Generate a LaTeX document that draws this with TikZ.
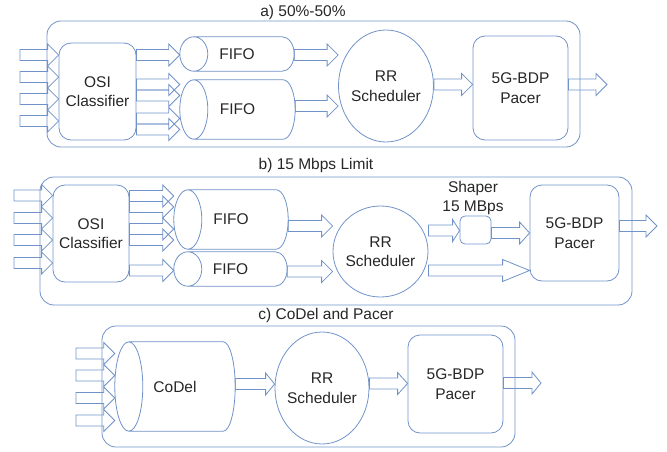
\documentclass[tikz,border=0pt]{standalone}
\usepackage{fontspec}
\setmainfont{Liberation Sans}
\usetikzlibrary{shapes,calc}
\definecolor{traitbleu}{HTML}{7092C8}

\begin{document}
\begin{tikzpicture}[
    x=1pt,y=-1pt,
    every node/.style = {font=\fontsize{15.5}{19.5}\selectfont,text=black!85},
    trait/.style  = {draw=traitbleu,line width=0.8pt},
    cadre/.style  = {trait,rectangle,rounded corners=14pt},
    boite/.style  = {trait,rectangle,rounded corners=12pt,align=center,inner sep=0pt},
    ordo/.style   = {trait,ellipse,align=center,inner xsep=-3pt,inner ysep=0pt},
    file/.style   = {rectangle,inner sep=0pt},
    fl/.style     = {trait,
                     to path={let \p1=(\tikztostart),\p2=(\tikztotarget) in
                       (\x1,\y1+5.5pt) -- (\x2-#1,\y1+5.5pt) -- (\x2-#1,\y1+11pt)
                       -- (\x2,\y1) -- (\x2-#1,\y1-11pt) -- (\x2-#1,\y1-5.5pt)
                       -- (\x1,\y1-5.5pt) -- cycle}},
    fl/.default   = 11pt,
  ]
  \useasboundingbox (0,0) rectangle (667,452);

  % a) 50%-50%
  \node[cadre,minimum width=533pt,minimum height=126pt] (cadreA) at (313.5,84) {};
  \node (titreA) at (303,12) {a) 50\%-50\%};
  \node[boite,minimum width=77pt,minimum height=97pt] (osiA) at (97.5,91.5)
       {OSI\\Classifier};
  \node[file,minimum width=114pt,minimum height=34pt] (fifoA1) at (237,54) {FIFO};
  \node[file,minimum width=115pt,minimum height=59pt] (fifoA2) at (237.5,109.5) {FIFO};
  \node[ordo,minimum width=95pt,minimum height=112pt] (rrA) at (386,86)
       {RR\\Scheduler};
  \node[boite,minimum width=95pt,minimum height=104pt] (pacerA) at (520.5,88)
       {5G-BDP\\Pacer};
  \coordinate (entreeA) at (20,0);
  \coordinate (sortieA) at (607,84.5);

  \foreach \y in {55,77,99,121}
    \draw[fl] (entreeA |- 0,\y) to (osiA.west);
  \draw[fl] (osiA.east |- 0,55) to (fifoA1.west);
  \foreach \y in {84.5,95.5,118.5,129.5}
    \draw[fl] (osiA.east |- 0,\y) to (fifoA2.west);
  \draw[fl] (fifoA1.east |- 0,55) to (rrA.west);
  \draw[fl] (fifoA2.east |- 0,106) to (rrA.west);
  \draw[fl] (rrA.east |- 0,84.5) to (pacerA.west);
  \draw[fl] (pacerA.east |- sortieA) to (sortieA);

  % b) 15 Mbps Limit
  \node[cadre,minimum width=592pt,minimum height=128pt] (cadreB) at (336,241) {};
  \node (titreB) at (316,165) {b) 15 Mbps Limit};
  \node[boite,minimum width=76pt,minimum height=97pt] (osiB) at (91,233.5)
       {OSI\\Classifier};
  \node[file,minimum width=114pt,minimum height=59pt] (fifoB1) at (231,219.5) {FIFO};
  \node[file,minimum width=113pt,minimum height=34pt] (fifoB2) at (230.5,269) {FIFO};
  \node[ordo,minimum width=95pt,minimum height=91pt] (rrB) at (380.5,251.5)
       {RR\\Scheduler};
  \node[boite,rounded corners=5pt,minimum width=31pt,minimum height=28pt] (shaper)
       at (475.5,230) {};
  \node[align=center] (shaperlab) at (473,198) {Shaper\\15 MBps};
  \node[boite,minimum width=89pt,minimum height=96pt] (pacerB) at (574.5,233)
       {5G-BDP\\Pacer};
  \coordinate (entreeB) at (14,0);
  \coordinate (sortieB) at (657,226);

  \foreach \y in {195.5,218,240,263}
    \draw[fl] (entreeB |- 0,\y) to (osiB.west);
  \foreach \y in {196,207,229,240}
    \draw[fl] (osiB.east |- 0,\y) to (fifoB1.west);
  \draw[fl] (osiB.east |- 0,270.5) to (fifoB2.west);
  \draw[fl] (fifoB1.east |- 0,226) to (rrB.west);
  \draw[fl] (fifoB2.east |- 0,271.5) to (rrB.west);
  \draw[fl=7pt] (rrB.east |- 0,230.5) to (shaper.west);
  \draw[fl=10pt] (shaper.east |- 0,233) to (pacerB.west);
  \draw[fl=27pt] (rrB.east |- 0,270.5) to (pacerB.west);
  \draw[fl] (pacerB.east |- sortieB) to (sortieB);

  % c) CoDel and Pacer
  \node[cadre,minimum width=413pt,minimum height=121pt] (cadreC) at (308.5,386.5) {};
  \node (titreC) at (326,315) {c) CoDel and Pacer};
  \node[file,minimum width=120pt,minimum height=89pt] (codel) at (175,386.5) {CoDel};
  \node[ordo,minimum width=94pt,minimum height=112pt] (rrC) at (322,388)
       {RR\\Scheduler};
  \node[boite,minimum width=95pt,minimum height=98pt] (pacerC) at (455.5,384)
       {5G-BDP\\Pacer};
  \coordinate (entreeC) at (76,0);
  \coordinate (sortieC) at (541,383);

  \foreach \y in {353.5,375.5,398,420.5}
    \draw[fl] (entreeC |- 0,\y) to (codel.west);
  \draw[fl=9pt] (codel.east |- 0,384) to (rrC.west);
  \draw[fl=10pt] (rrC.east |- 0,383.5) to (pacerC.west);
  \draw[fl=9pt] (pacerC.east |- sortieC) to (sortieC);

  % the queues: front ellipse, body, rear half ellipse
  \foreach \f in {fifoA1,fifoA2,fifoB1,fifoB2,codel}
    \draw[trait] let \p1=(\f.north west), \p2=(\f.south east),
                     \n1={(\y1-\y2)/2} in
      (\x1+14pt,\y1) arc[start angle=90,end angle=450,x radius=14pt,y radius=\n1]
      (\x1+14pt,\y1) -- (\x2-12pt,\y1)
      arc[start angle=90,end angle=-90,x radius=12pt,y radius=\n1]
      -- (\x1+14pt,\y2);

\end{tikzpicture}
\end{document}
